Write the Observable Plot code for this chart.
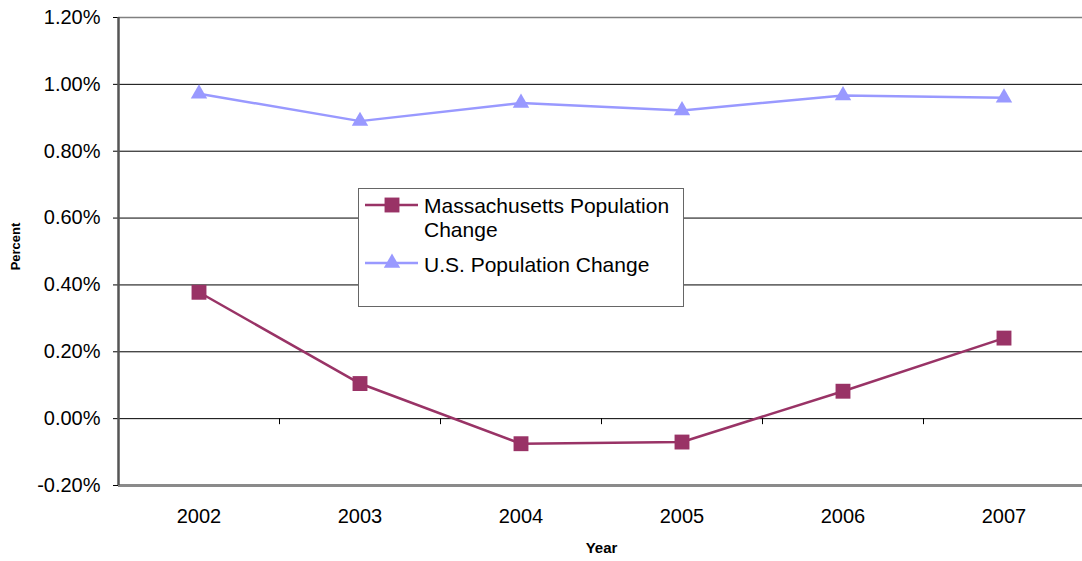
<!DOCTYPE html>
<html>
<head>
<meta charset="utf-8">
<script src="https://cdn.jsdelivr.net/npm/d3@7"></script>
<script src="https://cdn.jsdelivr.net/npm/@observablehq/plot@0.6"></script>
<style>
  html, body { margin: 0; padding: 0; background: #fff; }
  #wrap { position: relative; width: 1082px; height: 561px; font-family: "Liberation Sans", Arial, sans-serif; }
  #legend { position: absolute; left: 358px; top: 188px; }
</style>
</head>
<body>
<div id="wrap"></div>
<script>
// ---- data ----
const years = [2002, 2003, 2004, 2005, 2006, 2007];
const maChange = [0.378, 0.105, -0.075, -0.070, 0.082, 0.241];
const usChange = [0.972, 0.890, 0.944, 0.922, 0.967, 0.960];
const yTicks = [-0.2, 0, 0.2, 0.4, 0.6, 0.8, 1.0, 1.2];
const seriesNames = ["Massachusetts Population Change", "U.S. Population Change"];
const seriesColors = ["#993366", "#9999FF"];

const ma = years.map((y, i) => ({year: y, value: maChange[i]}));
const us = years.map((y, i) => ({year: y, value: usChange[i]}));
const boundaries = years.slice(0, -1).map(y => y + 0.5);

const font = '"Liberation Sans", Arial, sans-serif';

const chart = Plot.plot({
  width: 1082,
  height: 561,
  marginLeft: 118,
  marginRight: -2,
  marginTop: 17,
  marginBottom: 76,
  style: {fontFamily: font, fontSize: "20px", color: "#000", background: "#fff"},
  x: {type: "linear", domain: [2001.5, 2007.5]},
  y: {domain: [-0.2, 1.2]},
  marks: [
    // gridlines
    Plot.ruleY(yTicks.filter(d => d > -0.2 && d < 1.2), {stroke: "#000", strokeWidth: 1}),
    // top border
    Plot.ruleY([1.2], {stroke: "#808080", strokeWidth: 1.5}),
    // bottom border
    Plot.ruleY([-0.2], {stroke: "#8a8a8a", strokeWidth: 3}),
    // category tick marks on zero line
    Plot.ruleX(boundaries, {y1: 0, y2: -0.018, stroke: "#000", strokeWidth: 1}),
    // axes
    Plot.axisY({ticks: yTicks, tickFormat: d => d.toFixed(2) + "%", tickSize: 5, tickPadding: 13, label: null, stroke: "#000", fontSize: 20}),
    Plot.axisX({ticks: years, tickFormat: d => String(d), tickSize: 0, tickPadding: 23, label: null, fontSize: 20}),
    Plot.ruleX([2001.5], {stroke: "#555", strokeWidth: 2.5}),
    // series
    Plot.line(ma, {x: "year", y: "value", stroke: seriesColors[0], strokeWidth: 2.5}),
    Plot.dot(ma, {x: "year", y: "value", symbol: "square", r: 8.4, fill: seriesColors[0], stroke: null}),
    Plot.line(us, {x: "year", y: "value", stroke: seriesColors[1], strokeWidth: 2.5}),
    Plot.dot(us, {x: "year", y: "value", symbol: "triangle", r: 6.1, fill: seriesColors[1], stroke: null}),
    // axis titles
    Plot.text(["Year"], {frameAnchor: "bottom", textAnchor: "middle", lineAnchor: "middle", dy: 63, text: d => d, fontSize: 15, fontWeight: "bold", fill: "#000"}),
    Plot.text(["Percent"], {frameAnchor: "left", textAnchor: "middle", lineAnchor: "middle", dx: -103, dy: -5, rotate: -90, text: d => d, fontSize: 13, fontWeight: "bold", fill: "#000"})
  ]
});

const wrap = document.getElementById("wrap");
wrap.appendChild(chart);

// ---- legend ----
const lg = d3.create("svg")
  .attr("id", "legend")
  .attr("width", 326)
  .attr("height", 119)
  .style("overflow", "visible");
lg.append("rect").attr("x", 0.5).attr("y", 0.5).attr("width", 325).attr("height", 118)
  .attr("fill", "#fff").attr("stroke", "#666").attr("stroke-width", 1);

// entry 1
const e1 = lg.append("g").attr("transform", "translate(0,17)");
e1.append("line").attr("x1", 7).attr("x2", 60).attr("y1", 0).attr("y2", 0)
  .attr("stroke", seriesColors[0]).attr("stroke-width", 2.5);
e1.append("path").attr("d", d3.symbol(d3.symbolSquare, Math.PI * 8.4 * 8.4)()).attr("transform", "translate(34,0)")
  .attr("fill", seriesColors[0]);
const t1 = e1.append("text").attr("x", 66).attr("y", 8).attr("font-family", font).attr("font-size", 21).attr("fill", "#000");
t1.append("tspan").attr("x", 66).attr("y", 8).text("Massachusetts Population");
t1.append("tspan").attr("x", 66).attr("y", 32).text("Change");

// entry 2
const e2 = lg.append("g").attr("transform", "translate(0,75)");
e2.append("line").attr("x1", 7).attr("x2", 60).attr("y1", 0).attr("y2", 0)
  .attr("stroke", seriesColors[1]).attr("stroke-width", 2.5);
e2.append("path").attr("d", d3.symbol(d3.symbolTriangle, Math.PI * 6.1 * 6.1)()).attr("transform", "translate(34,0)")
  .attr("fill", seriesColors[1]);
e2.append("text").attr("x", 66).attr("y", 9).attr("font-family", font).attr("font-size", 21).attr("fill", "#000")
  .text(seriesNames[1]);

wrap.appendChild(lg.node());
</script>
</body>
</html>
